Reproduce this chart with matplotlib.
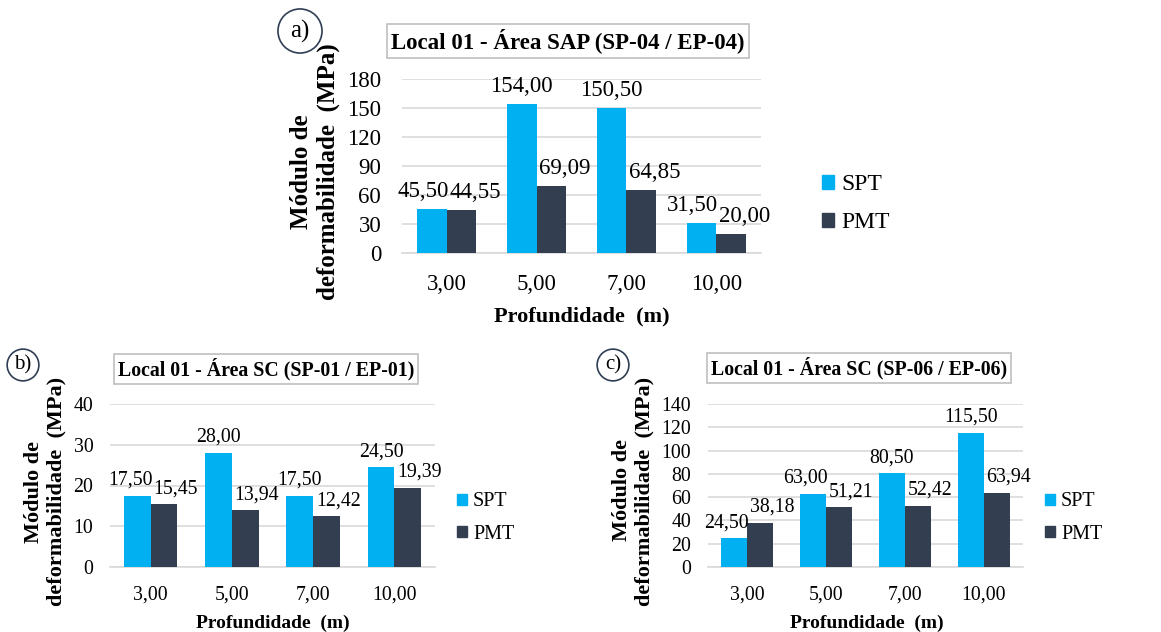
"""Módulo de deformabilidade: SPT x PMT por profundidade (Local 01)."""

import matplotlib

matplotlib.use("Agg")
import matplotlib.pyplot as plt
import numpy as np
from matplotlib.patches import Patch

plt.rcParams["font.family"] = ["Liberation Serif", "DejaVu Serif"]

W, H = 1161, 632

depths = ["3,00", "5,00", "7,00", "10,00"]
series = ["SPT", "PMT"]

spt_a = [45.50, 154.00, 150.50, 31.50]
pmt_a = [44.55, 69.09, 64.85, 20.00]
spt_b = [17.50, 28.00, 17.50, 24.50]
pmt_b = [15.45, 13.94, 12.42, 19.39]
spt_c = [24.50, 63.00, 80.50, 115.50]
pmt_c = [38.18, 51.21, 52.42, 63.94]

titles = [
    "Local 01 - Área SAP (SP-04 / EP-04)",
    "Local 01 - Área SC (SP-01 / EP-01)",
    "Local 01 - Área SC (SP-06 / EP-06)",
]
yticks_a = [0, 30, 60, 90, 120, 150, 180]
yticks_b = [0, 10, 20, 30, 40]
yticks_c = [0, 20, 40, 60, 80, 100, 120, 140]

C_SPT = "#00B0F0"
C_PMT = "#333F50"
GRID = "#D9D9D9"


def fx(x):
    return x / W


def fy(y):
    return 1 - y / H


def fmt(v):
    return f"{v:.2f}".replace(".", ",")


def panel(fig, box, spt, pmt, yticks, title, tag, lay, fs):
    left, right, top, bottom = box
    ax = fig.add_axes([fx(left), fy(bottom), fx(right - left), (bottom - top) / H])
    x = np.arange(len(depths))
    bw = 0.33
    b1 = ax.bar(x - bw / 2, spt, bw, color=C_SPT, zorder=3)
    b2 = ax.bar(x + bw / 2, pmt, bw, color=C_PMT, zorder=3)
    dy = 0.3 * fs
    pairs = []
    for r1, r2, v1, v2 in zip(b1, b2, spt, pmt):
        t1 = ax.annotate(fmt(v1), (r1.get_x() + r1.get_width() / 2, v1),
                         xytext=(0, dy), textcoords="offset points",
                         ha="center", va="bottom", fontsize=fs, clip_on=False)
        t2 = ax.annotate(fmt(v2), (r2.get_x(), v2),
                         xytext=(2, dy), textcoords="offset points",
                         ha="left", va="bottom", fontsize=fs, clip_on=False)
        pairs.append((t1, t2))
    ax.set_xlim(-0.5, len(depths) - 0.5)
    ax.set_ylim(yticks[0], yticks[-1])
    ax.set_yticks(yticks)
    ax.set_xticks(x)
    ax.set_xticklabels(depths)
    ax.tick_params(axis="both", length=0, labelsize=fs)
    ax.tick_params(axis="x", pad=lay["xpad"])
    ax.tick_params(axis="y", pad=lay["ypad"])
    ax.yaxis.grid(True, color=GRID, linewidth=1.2, zorder=0)
    for s in ("left", "right", "top"):
        ax.spines[s].set_visible(False)
    ax.spines["bottom"].set_color(GRID)
    ax.spines["bottom"].set_linewidth(1.2)

    fig.text(fx(lay["title"][0]), fy(lay["title"][1]), title, ha="center", va="center",
             fontsize=lay["tfs"], fontweight="bold",
             bbox=dict(boxstyle="square,pad=0.2", fc="white", ec="#BFBFBF", lw=1.2))
    fig.text(fx(lay["tag"][0]), fy(lay["tag"][1]), tag, ha="center", va="center",
             fontsize=lay["tagfs"],
             bbox=dict(boxstyle=f"circle,pad={lay['tagpad']}", fc="white", ec="#2F3E55", lw=1.2))
    fig.text(fx(lay["yl1"][0]), fy(lay["yl1"][1]), "Módulo de", rotation=90,
             ha="center", va="center", fontsize=lay["ylfs"], fontweight="bold")
    fig.text(fx(lay["yl2"][0]), fy(lay["yl2"][1]), "deformabilidade  (MPa)", rotation=90,
             ha="center", va="center", fontsize=lay["ylfs"], fontweight="bold")
    fig.text(fx(lay["xl"][0]), fy(lay["xl"][1]), "Profundidade  (m)",
             ha="center", va="center", fontsize=lay["xlfs"], fontweight="bold")
    handles = [Patch(color=C_SPT, label=series[0]), Patch(color=C_PMT, label=series[1])]
    fig.legend(handles=handles, loc="center left",
               bbox_to_anchor=(fx(lay["leg"][0]), fy(lay["leg"][1])),
               frameon=False, fontsize=lay["legfs"], handlelength=0.5, handleheight=0.5,
               handletextpad=0.3, labelspacing=lay["lsp"], borderpad=0, borderaxespad=0)
    return pairs


fig = plt.figure(figsize=(W / 100, H / 100), dpi=100)

all_pairs = []
all_pairs += panel(fig, (402, 761, 79, 253), spt_a, pmt_a, yticks_a, titles[0], "a)",
                   dict(xpad=15, ypad=15, title=(568, 41), tag=(300, 31), tagfs=18, tagpad=0.42,
                        tfs=16.5, yl1=(301, 172), yl2=(328, 172), ylfs=18, xl=(582, 316), xlfs=16,
                        leg=(822, 204), lsp=0.72, legfs=17), fs=16.5)
all_pairs += panel(fig, (110, 435, 404, 567), spt_b, pmt_b, yticks_b, titles[1], "b)",
                   dict(xpad=13, ypad=12, title=(266, 369), tag=(23, 365), tagfs=15, tagpad=0.3,
                        tfs=14.3, yl1=(34, 492), yl2=(56, 491), ylfs=16, xl=(273, 623), xlfs=14,
                        leg=(457, 518), lsp=0.65, legfs=14.5), fs=14.3)
all_pairs += panel(fig, (708, 1023, 404, 567), spt_c, pmt_c, yticks_c, titles[2], "c)",
                   dict(xpad=13, ypad=12, title=(859, 368), tag=(613, 365), tagfs=15, tagpad=0.3,
                        tfs=14.3, yl1=(622, 490), yl2=(644, 491), ylfs=16, xl=(867, 623), xlfs=14,
                        leg=(1045, 518), lsp=0.65, legfs=14.5), fs=14.3)

# push an SPT label left when it collides with its PMT neighbour, like Excel does
fig.canvas.draw()
renderer = fig.canvas.get_renderer()
for t1, t2 in all_pairs:
    e1 = t1.get_window_extent(renderer)
    e2 = t2.get_window_extent(renderer)
    if e1.overlaps(e2):
        shift = (e1.x1 - e2.x0 + 1) * 72 / fig.dpi
        ox, oy = t1.xyann
        t1.xyann = (ox - shift, oy)

fig.savefig("out.png", dpi=100, facecolor="white")
